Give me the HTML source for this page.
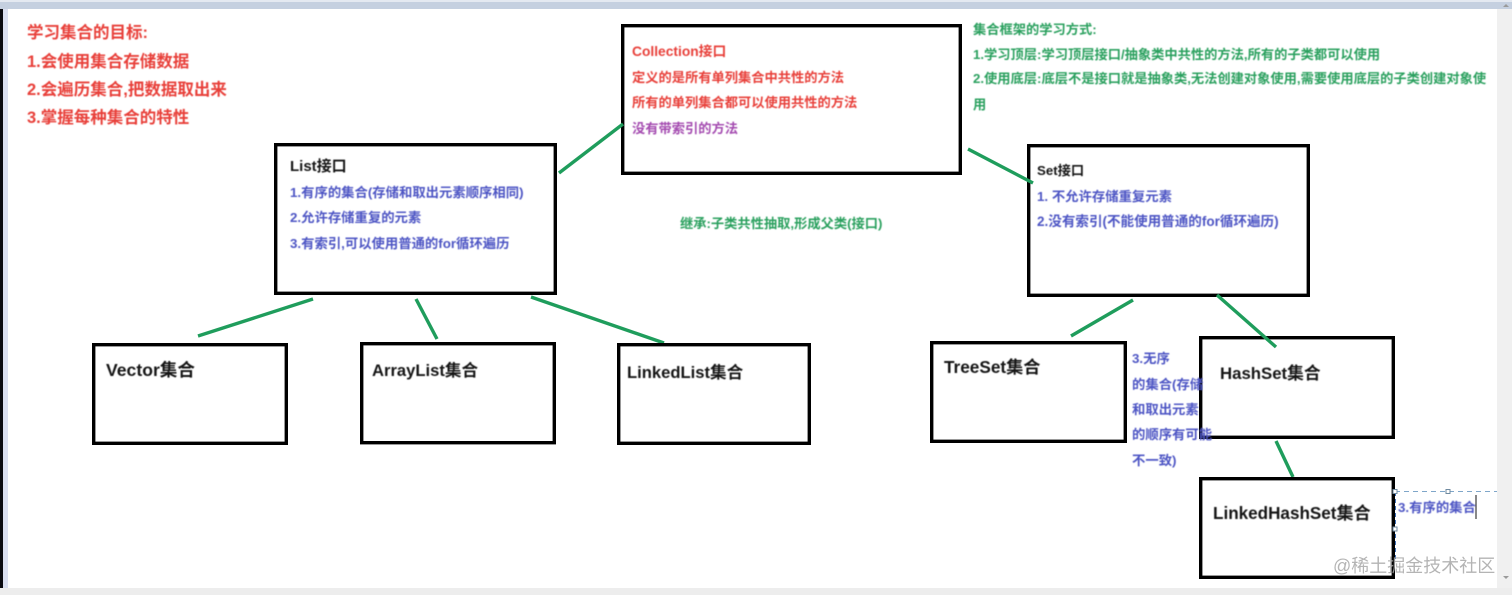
<!DOCTYPE html>
<html lang="zh">
<head>
<meta charset="utf-8">
<title>集合框架</title>
<style>
html,body{margin:0;padding:0;width:1512px;height:595px;overflow:hidden;background:#fff}
svg{display:block}
text{font-family:"Liberation Sans","Noto Sans CJK SC",sans-serif;font-weight:700}
.t{filter:blur(.45px)}
.r{fill:#e8403a;font-size:13.25px}
.R{fill:#e8403a;font-size:16.5px}
.b{fill:#4d55c4;font-size:13.35px}
.g{fill:#2aa05e;font-size:13.25px}
.k{fill:#151515;font-size:16.6px}
.box{fill:#fff;stroke:#000;stroke-width:3.4}
.ln{stroke:#1f9d5c;stroke-width:3.4;stroke-linecap:butt}
</style>
</head>
<body>
<svg width="1512" height="595" viewBox="0 0 1512 595" xmlns="http://www.w3.org/2000/svg">
  <rect x="0" y="0" width="1512" height="595" fill="#fff"/>
  <rect x="0" y="0" width="1512" height="9" fill="#c5d0e0"/>
  <rect x="0" y="0" width="1512" height="2" fill="#e4e9f1"/>
  <rect x="0" y="9" width="3" height="586" fill="#0a0a10"/>
  <rect x="3" y="9" width="5" height="580" fill="#dadff0"/>
  <rect x="1497" y="9" width="15" height="580" fill="#f0f0f0"/>
  <rect x="0" y="588" width="1512" height="7" fill="#ededed"/>
  <path d="M1503 7l3-3 3 3z" fill="#9a9a9a"/>
  <path d="M1503 576l3 3 3-3z" fill="#9a9a9a"/>

  <g class="ln">
    <line x1="313" y1="299" x2="198" y2="336"/>
    <line x1="416" y1="299" x2="437" y2="339"/>
    <line x1="531" y1="297" x2="664" y2="343"/>
    <line x1="1133" y1="300" x2="1071" y2="336"/>
    <line x1="1276" y1="441" x2="1293" y2="477"/>
  </g>

  <rect class="box" x="622.7" y="25.7" width="337.6" height="147.6"/>
  <rect class="box" x="275.7" y="144.7" width="279.6" height="148.6"/>
  <rect class="box" x="93.7" y="344.7" width="192.6" height="98.6"/>
  <rect class="box" x="361.7" y="343.7" width="192.6" height="99"/>
  <rect class="box" x="618.7" y="344.7" width="190.6" height="98.6"/>
  <rect class="box" x="1028.7" y="145.7" width="279.6" height="149.6"/>
  <rect class="box" x="931.7" y="342.7" width="193.6" height="98.6"/>

  <g class="ln">
    <line x1="559" y1="173" x2="623" y2="124"/>
    <line x1="968" y1="149" x2="1033" y2="183"/>
  </g>

  <rect class="box" x="1200.7" y="337.7" width="192.6" height="99.6"/>
  <line class="ln" x1="1217" y1="295" x2="1276" y2="347"/>
  <rect class="box" x="1200.7" y="478.7" width="192.6" height="98.6"/>

  <g class="t">
    <text class="b" x="1132" y="363">3.无序</text>
    <text class="b" x="1132" y="389">的集合(存储</text>
    <text class="b" x="1132" y="414">和取出元素</text>
    <text class="b" x="1132" y="439">的顺序有可能</text>
    <text class="b" x="1132" y="465">不一致)</text>

    <text class="R" x="27" y="38">学习集合的目标:</text>
    <text class="R" x="27" y="67">1.会使用集合存储数据</text>
    <text class="R" x="27" y="95">2.会遍历集合,把数据取出来</text>
    <text class="R" x="27" y="123">3.掌握每种集合的特性</text>

    <text class="r" x="632" y="56" style="font-size:13.8px">Collection接口</text>
    <text class="r" x="632" y="82">定义的是所有单列集合中共性的方法</text>
    <text class="r" x="632" y="107">所有的单列集合都可以使用共性的方法</text>
    <text class="r" x="632" y="133" style="fill:#a44bb0">没有带索引的方法</text>

    <text class="g" x="973" y="34">集合框架的学习方式:</text>
    <text class="g" x="973" y="59">1.学习顶层:学习顶层接口/抽象类中共性的方法,所有的子类都可以使用</text>
    <text class="g" x="973" y="83">2.使用底层:底层不是接口就是抽象类,无法创建对象使用,需要使用底层的子类创建对象使</text>
    <text class="g" x="973" y="109">用</text>

    <text class="g" x="680" y="228">继承:子类共性抽取,形成父类(接口)</text>

    <text class="k" x="290" y="171" style="font-size:15px">List接口</text>
    <text class="b" x="290" y="197">1.有序的集合(存储和取出元素顺序相同)</text>
    <text class="b" x="290" y="222">2.允许存储重复的元素</text>
    <text class="b" x="290" y="248">3.有索引,可以使用普通的for循环遍历</text>

    <text class="k" x="1037" y="175" style="font-size:13.25px">Set接口</text>
    <text class="b" x="1037" y="201">1. 不允许存储重复元素</text>
    <text class="b" x="1037" y="226" style="font-size:13.55px">2.没有索引(不能使用普通的for循环遍历)</text>

    <text class="k" x="106" y="376" style="font-size:17.6px">Vector集合</text>
    <text class="k" x="372" y="376">ArrayList集合</text>
    <text class="k" x="627" y="378">LinkedList集合</text>
    <text class="k" x="944" y="373" style="font-size:17.2px">TreeSet集合</text>
    <text class="k" x="1220" y="379" style="font-size:16.8px">HashSet集合</text>
    <text class="k" x="1213" y="519" style="font-size:17.1px">LinkedHashSet集合</text>

    <text class="b" x="1398" y="512">3.有序的集合</text>
  </g>

  <line x1="1395" y1="491.500" x2="1497" y2="491.500" stroke="#7fa6c9" stroke-width="1" stroke-dasharray="5 4"/>
  <line x1="1395.500" y1="492" x2="1395.500" y2="560" stroke="#3f6fb5" stroke-width="1" stroke-dasharray="4 3"/>
  <rect x="1393" y="489.500" width="4" height="4" fill="#fff" stroke="#6f8a9f"/>
  <rect x="1446" y="489.500" width="4" height="4" fill="#fff" stroke="#6f8a9f"/>
  <rect x="1393" y="527" width="4" height="4" fill="#fff" stroke="#6f8a9f"/>
  <line x1="1476" y1="495" x2="1476" y2="519" stroke="#111" stroke-width="1"/>

  <text x="1333" y="572" style="font-size:18px;font-weight:400;fill:#a8a8a8;opacity:.85">@稀土掘金技术社区</text>
</svg>
</body>
</html>
